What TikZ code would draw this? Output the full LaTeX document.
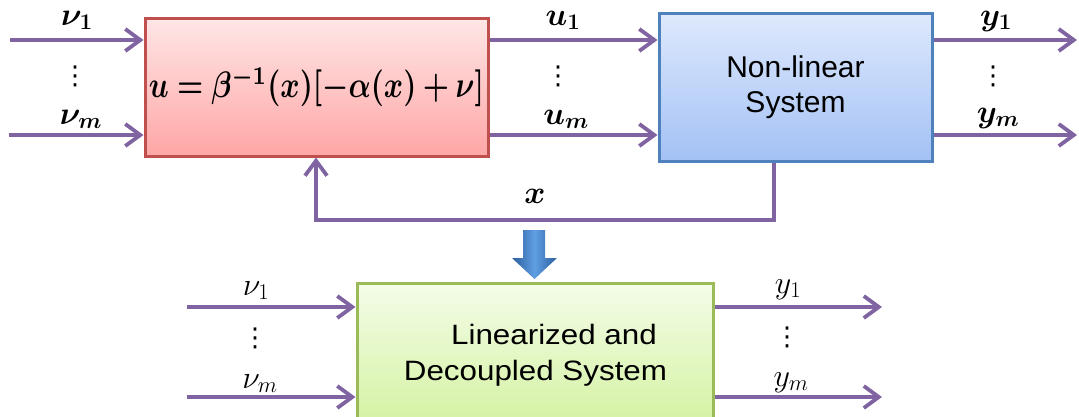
\RequirePackage{fix-cm}
\documentclass[tikz,border=0pt]{standalone}
\usepackage[no-math]{fontspec}
\usepackage{amsmath,bm}
\usepackage{graphicx}
\usetikzlibrary{arrows.meta}

\newfontfamily\sysfont{Liberation Sans}
\newfontfamily\widesysfont[FakeStretch=1.12]{Liberation Sans}
\newfontfamily\dotsfont{DejaVu Sans}

\definecolor{flow}{HTML}{8064A2}
\definecolor{ctrlline}{HTML}{C0504D}
\definecolor{ctrltop}{HTML}{FFE6E6}
\definecolor{ctrlbot}{HTML}{FFA6A6}
\definecolor{sysline}{HTML}{4F81BD}
\definecolor{systop}{HTML}{DEE9FD}
\definecolor{sysbot}{HTML}{A3C1F5}
\definecolor{linline}{HTML}{9BBB59}
\definecolor{lintop}{HTML}{F4FCE8}
\definecolor{linbot}{HTML}{D2F29E}
\definecolor{bigdark}{HTML}{2C5E9E}
\definecolor{biglight}{HTML}{5F9EE3}

\tikzset{
  flowarrow/.style={draw=flow, line width=3.8pt,
    -{Straight Barb[length=15pt,width=22pt]}},
  blockbox/.style={rectangle, line width=3pt, inner sep=0pt},
  mathlbl/.style={font=\fontsize{32}{34}\selectfont, inner sep=0pt, anchor=base},
  dotsnode/.style={font=\dotsfont\fontsize{26}{26}\selectfont, inner sep=0pt},
  systext/.style={font=\sysfont\fontsize{30}{35}\selectfont, align=center},
  lintext/.style={font=\widesysfont\fontsize{28}{36}\selectfont, inner sep=0pt, anchor=base},
}

\begin{document}
\begin{tikzpicture}[x=1pt,y=-1pt]
\useasboundingbox (0,0) rectangle (1079,416);

% controller block
\node[blockbox, draw=ctrlline, top color=ctrltop, bottom color=ctrlbot,
      minimum width=343pt, minimum height=138pt] (ctrl) at (316.5,87)
  {\resizebox*{335pt}{40pt}{$\bm{u=\beta^{-1}(x)[-\alpha(x)+\nu]}$}};

% plant block
\node[blockbox, draw=sysline, top color=systop, bottom color=sysbot,
      minimum width=273pt, minimum height=148pt, systext] (sys) at (795.5,87)
  {Non-linear\\System};

% resulting linear system
\node[blockbox, draw=linline, top color=lintop, bottom color=linbot,
      minimum width=356pt, minimum height=150pt] (lin) at (535,358) {};
\node[lintext] (lintxt1) at (554,344) {Linearized and};
\node[lintext] (lintxt2) at (535.5,380) {Decoupled System};

% end points of the signal lines
\coordinate (vin1) at (10,40);
\coordinate (vinm) at (9,135);
\coordinate (yout1) at (1077,40);
\coordinate (youtm) at (1077,135);
\coordinate (fbR) at (774,220);
\coordinate (fbL) at (316,220);
\coordinate (lvin1) at (187,307);
\coordinate (lvinm) at (187,397);
\coordinate (lyout1) at (882,307);
\coordinate (lyoutm) at (882,397);

% top row signals
\draw[flowarrow] (vin1) -- (ctrl.west |- vin1);
\draw[flowarrow] (vinm) -- (ctrl.west |- vinm);
\draw[flowarrow] (ctrl.east |- vin1) -- (sys.west |- vin1);
\draw[flowarrow] (ctrl.east |- vinm) -- (sys.west |- vinm);
\draw[flowarrow] (sys.east |- yout1) -- (yout1);
\draw[flowarrow] (sys.east |- youtm) -- (youtm);

% state feedback
\draw[flowarrow] (sys.south -| fbR) -- (fbR) -- (fbL) -- (ctrl.south -| fbL);

% bottom row signals
\draw[flowarrow] (lvin1) -- (lin.west |- lvin1);
\draw[flowarrow] (lvinm) -- (lin.west |- lvinm);
\draw[flowarrow] (lin.east |- lyout1) -- (lyout1);
\draw[flowarrow] (lin.east |- lyoutm) -- (lyoutm);

% signal labels
\node[mathlbl] (lv1) at (77,25) {$\bm{\nu_1}$};
\node[mathlbl] (lvm) at (81,124) {$\bm{\nu_m}$};
\node[mathlbl] (lu1) at (563,25) {$\bm{u_1}$};
\node[mathlbl] (lum) at (566,124) {$\bm{u_m}$};
\node[mathlbl] (ly1) at (996,25) {$\bm{y_1}$};
\node[mathlbl] (lym) at (998,122) {$\bm{y_m}$};
\node[mathlbl] (lx) at (535,203) {$\bm{x}$};
\node[mathlbl] (bv1) at (256,295) {$\nu_1$};
\node[mathlbl] (bvm) at (260,388) {$\nu_m$};
\node[mathlbl] (by1) at (788,293) {$y_1$};
\node[mathlbl] (bym) at (791,386) {$y_m$};

% vertical ellipses
\node[dotsnode] (d1) at (75,76) {⋮};
\node[dotsnode] (d2) at (558,76) {⋮};
\node[dotsnode] (d3) at (993,76) {⋮};
\node[dotsnode] (d4) at (255,338) {⋮};
\node[dotsnode] (d5) at (787,337) {⋮};

% transformation arrow
\shade[left color=bigdark, right color=bigdark, middle color=biglight]
  (523,230) -- (545,230) -- (545,258) -- (557,258) -- (534.5,279)
  -- (512,258) -- (523,258) -- cycle;
\end{tikzpicture}
\end{document}
